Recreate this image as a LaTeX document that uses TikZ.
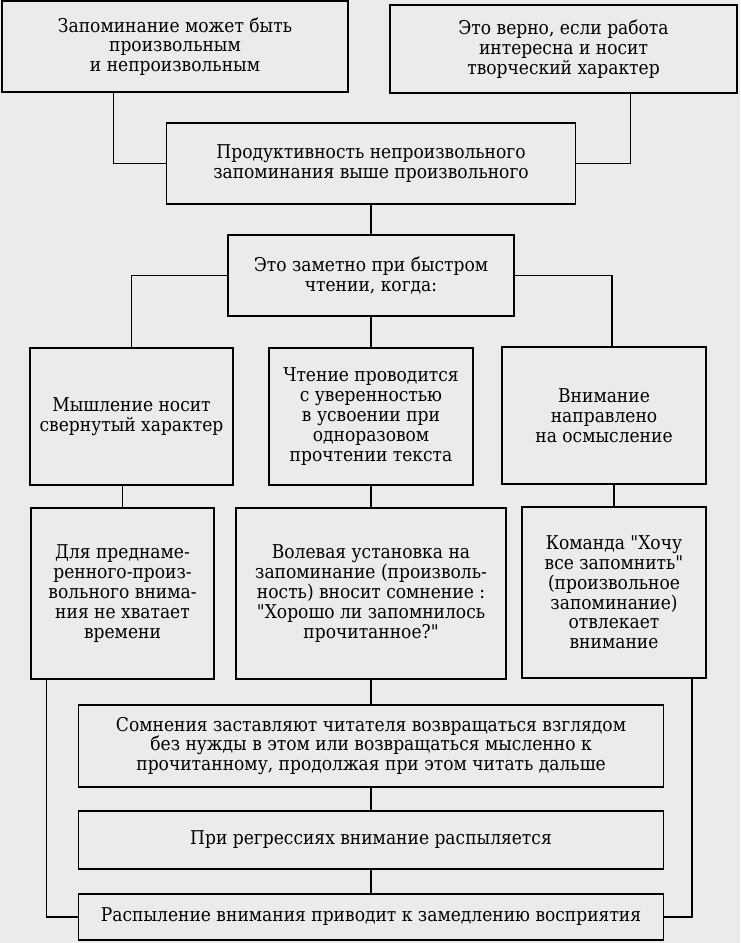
\documentclass[tikz,border=0pt]{standalone}
\usepackage{fontspec}
\setmainfont{DejaVu Serif Condensed}[Ligatures=TeXOff]
\usepackage{tikz}

\begin{document}
\begin{tikzpicture}[x=1pt, y=-1pt, line width=1.5pt,
  box/.style={draw, align=center, inner sep=0pt, font=\fontsize{19}{19.8}\selectfont}]
\fill[black!8] (0,0) rectangle (740,943);
\useasboundingbox (0,0) rectangle (740,943);
% top row
\node[box, minimum width=346pt, minimum height=91pt] (free) at (175,46.5) {Запоминание может быть\\произвольным\\и непроизвольным};
\node[box, minimum width=347pt, minimum height=88pt] (creative) at (563.5,49) {Это верно, если работа\\интересна и носит\\творческий характер};
\node[box, minimum width=409pt, minimum height=81pt] (productive) at (371,163.5) {Продуктивность непроизвольного\\запоминания выше произвольного};
\node[box, minimum width=286pt, minimum height=81pt] (fastread) at (371,275.5) {Это заметно при быстром\\чтении, когда:};
% three reasons
\node[box, minimum width=203pt, minimum height=137pt] (folded) at (131.5,416.5) {Мышление носит\\свернутый характер};
\node[box, minimum width=204pt, minimum height=137pt] (confident) at (371,416.5) {Чтение проводится\\с уверенностью\\в усвоении при\\одноразовом\\прочтении текста};
\node[box, minimum width=204pt, minimum height=137pt] (meaning) at (604,415.5) {Внимание\\направлено\\на осмысление};
% consequences
\node[box, minimum width=183pt, minimum height=171pt] (notime) at (122.5,593.5) {Для преднаме-\\ренного-произ-\\вольного внима-\\ния не хватает\\времени};
\node[box, minimum width=270pt, minimum height=171pt] (doubt) at (371,593.5) {Волевая установка на\\запоминание (произволь-\\ность) вносит сомнение :\\"Хорошо ли запомнилось\\прочитанное?"};
\node[box, minimum width=184pt, minimum height=171pt] (command) at (614,592.5) {Команда "Хочу\\все запомнить"\\(произвольное\\запоминание)\\отвлекает\\внимание};
% bottom chain
\node[box, minimum width=585pt, minimum height=82pt] (doubts) at (371,746) {Сомнения заставляют читателя возвращаться взглядом\\без нужды в этом или возвращаться мысленно к\\прочитанному, продолжая при этом читать дальше};
\node[box, minimum width=585pt, minimum height=58pt] (scatter) at (371,840) {При регрессиях внимание распыляется};
\node[box, minimum width=585pt, minimum height=46pt] (slowdown) at (371,917) {Распыление внимания приводит к замедлению восприятия};
% connectors
\draw (free.south west) ++(112,0) |- (productive.west);
\draw (creative.south west) ++(241,0) |- (productive.east);
\draw (productive.south) -- (fastread.north);
\draw (fastread.west) -| (folded.north);
\draw (fastread.south) -- (confident.north);
\draw (fastread.east) -| ([xshift=8pt]meaning.north);
\draw (folded.south -| notime.north) -- (notime.north);
\draw (confident.south) -- (doubt.north);
\draw (meaning.south -| command.north) -- (command.north);
\draw (notime.south west) ++(16,0) |- (slowdown.west);
\draw (command.south east) ++(-15,0) |- (slowdown.east);
\draw (doubt.south) -- (doubts.north);
\draw (doubts.south) -- (scatter.north);
\draw (scatter.south) -- (slowdown.north);
\end{tikzpicture}
\end{document}
